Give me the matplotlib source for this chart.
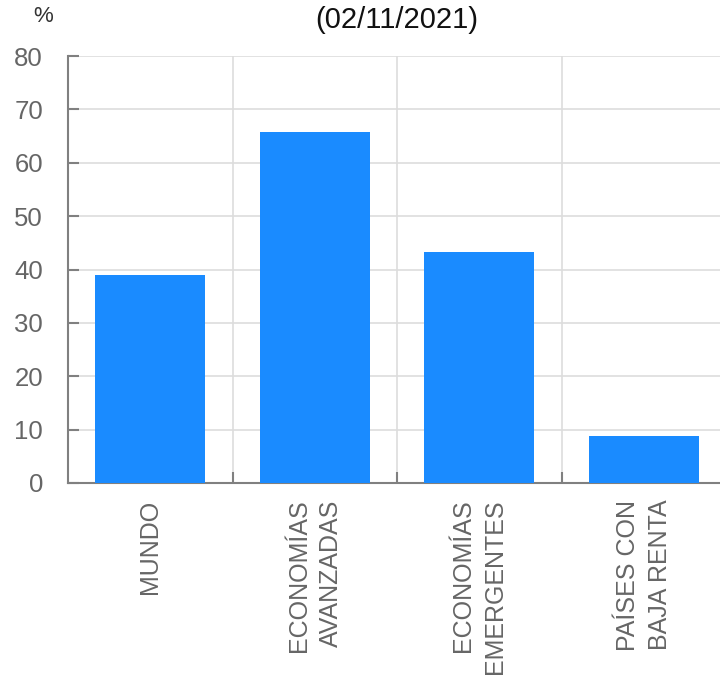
import numpy as np
import matplotlib.pyplot as plt

plt.rcParams['font.family'] = ['Liberation Sans', 'DejaVu Sans']

categorias = ["MUNDO", "ECONOMÍAS\nAVANZADAS", "ECONOMÍAS\nEMERGENTES", "PAÍSES CON\nBAJA RENTA"]
valores = [39.0, 65.8, 43.2, 8.8]
y_ticks = [0, 10, 20, 30, 40, 50, 60, 70, 80]

azul = "#1a8bff"
gris = "#666666"

fig = plt.figure(figsize=(7.2, 6.75), dpi=100)
ax = fig.add_axes([68/720, 192/675, 658/720, 427/675])

x = np.arange(len(categorias))
ax.bar(x, valores, width=0.67, color=azul, zorder=3)

ax.set_xlim(-0.5, len(categorias) - 0.5)
ax.set_ylim(0, 80)
ax.set_yticks(y_ticks)

# separadores entre categorias
ax.set_xticks(x)
ax.set_xticklabels(categorias, rotation=90, va="top", ha="center",
                   multialignment="right", linespacing=1.4,
                   fontsize=18, color=gris)
ax.set_xticks(x[:-1] + 0.5, minor=True)
ax.tick_params(axis="x", which="major", length=0, pad=12)
ax.tick_params(axis="x", which="minor", direction="in", length=8,
               width=1.5, color="#808080")
ax.tick_params(axis="y", direction="in", length=8, width=1.5,
               color="#808080", labelsize=18.5, labelcolor=gris, pad=18)

ax.grid(True, axis="y", color="#dddddd", lw=1.2, zorder=0)
ax.grid(True, axis="x", which="minor", color="#dddddd", lw=1.2, zorder=0)

for s in ["top", "right"]:
    ax.spines[s].set_visible(False)
for s in ["left", "bottom"]:
    ax.spines[s].set_color("#808080")
    ax.spines[s].set_linewidth(1.5)

fig.text(43/720, 1 - 17/675, "%", ha="center", va="center", fontsize=16, color="#333333")
fig.text(397/720, 1 - 20/675, "(02/11/2021)", ha="center", va="center", fontsize=21, color="#111111")

fig.savefig("out.png", dpi=100)
